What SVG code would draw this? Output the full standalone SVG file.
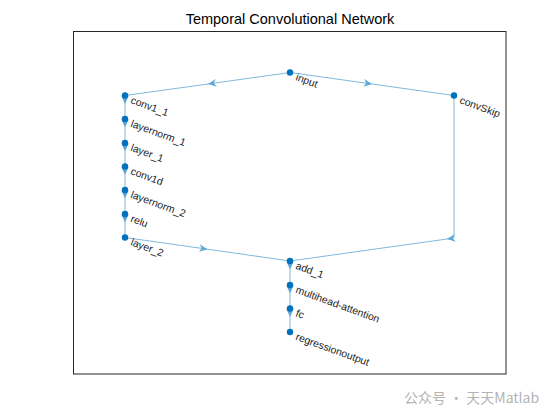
<svg xmlns="http://www.w3.org/2000/svg" width="560" height="420" viewBox="0 0 560 420">
<style>
.e{fill:none;stroke:#80b9de;stroke-width:1;marker-mid:url(#ah)}
.p{fill:none;stroke:#80b9de;stroke-width:1}
.n circle{fill:#0072bd}
.n text{font-family:"Liberation Sans",Arial,sans-serif;font-size:10.4px;fill:#1a1a1a}
.t{font-family:"Liberation Sans",Arial,sans-serif;font-size:14.5px;fill:#000;text-anchor:middle}
.w{font-family:"Noto Sans CJK SC","Noto Sans",sans-serif;font-size:14px;fill:#b4b4b4}
</style>
<defs>
<marker id="ah" markerUnits="userSpaceOnUse" markerWidth="12" markerHeight="12" refX="0" refY="0" viewBox="-9 -5 10 10" orient="auto">
<path d="M0,0 L-7,-3.2 L-4.8,0 L-7,3.2 Z" fill="#5fa6d8"/>
</marker>
</defs>
<rect width="560" height="420" fill="#fff"/>
<text class="t" x="290" y="24">Temporal Convolutional Network</text>
<rect x="73.5" y="31.5" width="432.5" height="342.5" fill="none" stroke="#262626" stroke-width="1"/>
<g id="connectors">
<path class="e" d="M290,72.5 L208,84 L125,95.5"/>
<path class="e" d="M290,72.5 L372,84 L454,95.5"/>
<path class="e" d="M125,95.5 L125,104 L125,119"/>
<path class="e" d="M125,119 L125,127.5 L125,143"/>
<path class="e" d="M125,143 L125,151.5 L125,166.5"/>
<path class="e" d="M125,166.5 L125,175 L125,190"/>
<path class="e" d="M125,190 L125,198.5 L125,214"/>
<path class="e" d="M125,214 L125,222.5 L125,237.5"/>
<path class="e" d="M125,237.5 L207.5,249.2 L290,261"/>
<path class="p" d="M454,95.5 L454,238"/>
<path class="e" d="M454,238 L447,239 L290,261"/>
<path class="e" d="M290,261 L290,269.5 L290,285"/>
<path class="e" d="M290,285 L290,293.5 L290,308.5"/>
<path class="e" d="M290,308.5 L290,317 L290,332"/>
</g>
<g id="input" class="n"><circle cx="290" cy="72.5" r="3.2"/><text transform="translate(295,80) rotate(20)">input</text></g>
<g id="convSkip" class="n"><circle cx="454" cy="95.5" r="3.2"/><text transform="translate(459,103) rotate(20)">convSkip</text></g>
<g id="conv1_1" class="n"><circle cx="125" cy="95.5" r="3.2"/><text transform="translate(130,103) rotate(20)">conv1_1</text></g>
<g id="layernorm_1" class="n"><circle cx="125" cy="119" r="3.2"/><text transform="translate(130,126.5) rotate(20)">layernorm_1</text></g>
<g id="layer_1" class="n"><circle cx="125" cy="143" r="3.2"/><text transform="translate(130,150.5) rotate(20)">layer_1</text></g>
<g id="conv1d" class="n"><circle cx="125" cy="166.5" r="3.2"/><text transform="translate(130,174) rotate(20)">conv1d</text></g>
<g id="layernorm_2" class="n"><circle cx="125" cy="190" r="3.2"/><text transform="translate(130,197.5) rotate(20)">layernorm_2</text></g>
<g id="relu" class="n"><circle cx="125" cy="214" r="3.2"/><text transform="translate(130,221.5) rotate(20)">relu</text></g>
<g id="layer_2" class="n"><circle cx="125" cy="237.5" r="3.2"/><text transform="translate(130,245) rotate(20)">layer_2</text></g>
<g id="add_1" class="n"><circle cx="290" cy="261" r="3.2"/><text transform="translate(295,268.5) rotate(20)">add_1</text></g>
<g id="multihead-attention" class="n"><circle cx="290" cy="285" r="3.2"/><text transform="translate(295,292.5) rotate(20)">multihead-attention</text></g>
<g id="fc" class="n"><circle cx="290" cy="308.5" r="3.2"/><text transform="translate(295,316) rotate(20)">fc</text></g>
<g id="regressionoutput" class="n"><circle cx="290" cy="332" r="3.2"/><text transform="translate(295,339.5) rotate(20)">regressionoutput</text></g>
<text class="w" x="404" y="403">公众号 · 天天Matlab</text>
</svg>
